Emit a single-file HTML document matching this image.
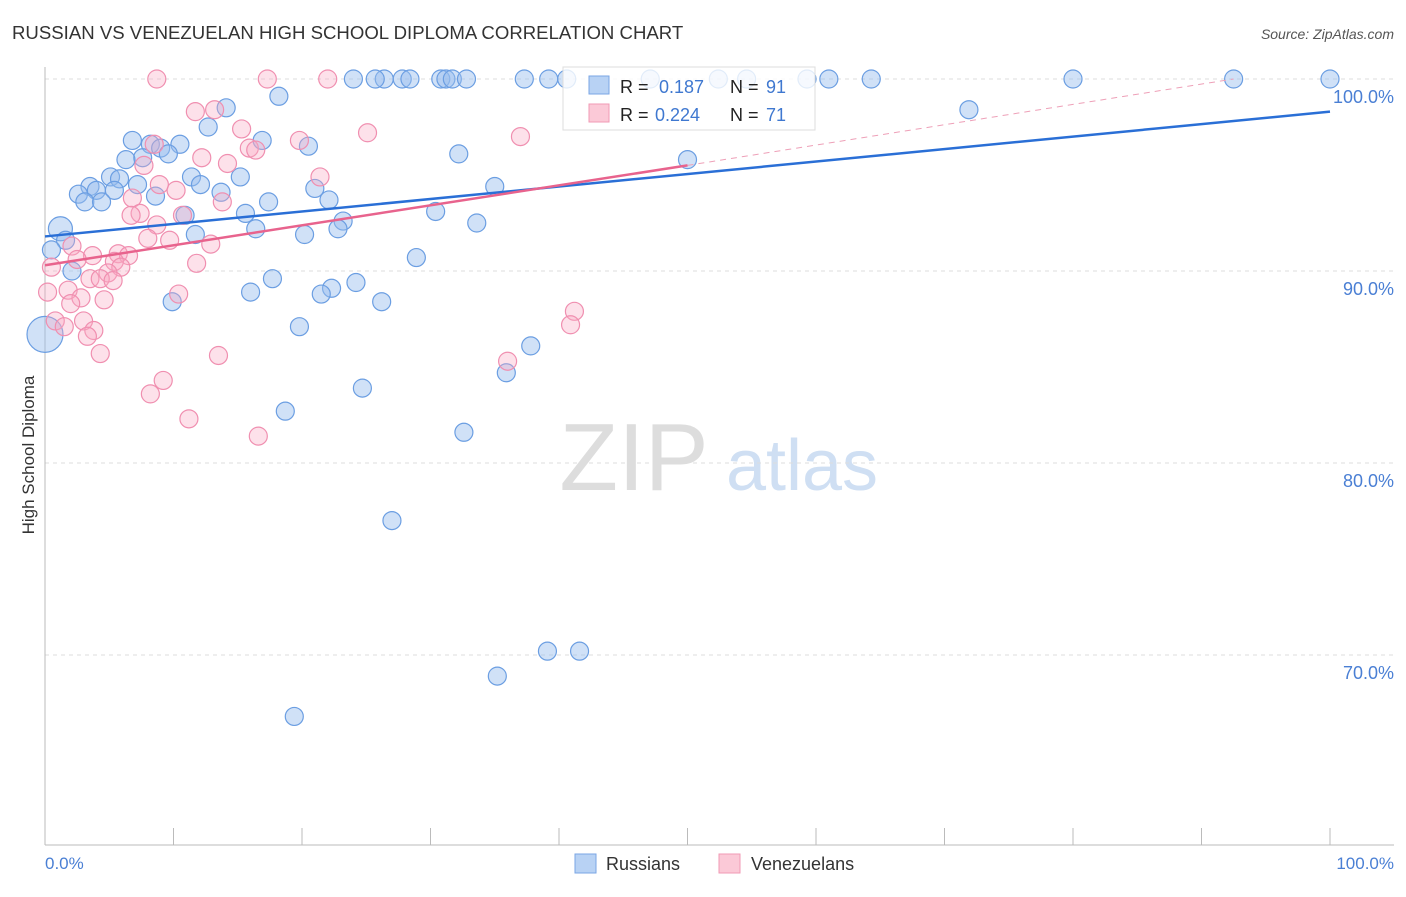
<!DOCTYPE html>
<html><head><meta charset="utf-8">
<style>
body{margin:0;background:#fff;font-family:"Liberation Sans",sans-serif;}
svg text{font-family:"Liberation Sans",sans-serif;}
</style></head>
<body>
<svg id="chart" width="1406" height="892" xmlns="http://www.w3.org/2000/svg">
<text x="12" y="39" font-size="18.6" fill="#333">RUSSIAN VS VENEZUELAN HIGH SCHOOL DIPLOMA CORRELATION CHART</text>
<text x="1394" y="39" font-size="14" fill="#555" font-style="italic" text-anchor="end">Source: ZipAtlas.com</text>
<g>
<text x="634" y="490" font-size="96" fill="#ddd" font-family="Liberation Serif" text-anchor="middle">ZIP</text>
<text x="802" y="490" font-size="72" fill="#cfdff3" text-anchor="middle">atlas</text>
</g>
<g id="grid"></g>
<g id="axes"></g>
<g id="pts"></g>
<g id="lines"></g>
<text transform="translate(34,455) rotate(-90)" font-size="17" fill="#333" text-anchor="middle">High School Diploma</text>
<text x="45" y="869" font-size="17" fill="#4a7fd4">0.0%</text>
<text x="1394" y="869" font-size="17" fill="#4a7fd4" text-anchor="end">100.0%</text>
<g>
<rect x="563" y="67" width="252" height="63" fill="#fff" fill-opacity="0.8" stroke="#ddd"/>
<rect x="589" y="76" width="20" height="18" fill="#b8d2f4" stroke="#7aa6e4"/>
<text x="620" y="93" font-size="18" fill="#222">R = </text><text x="659" y="93" font-size="18" fill="#3f78d0">0.187</text>
<text x="730" y="93" font-size="18" fill="#222">N = </text><text x="766" y="93" font-size="18" fill="#3f78d0">91</text>
<rect x="589" y="104" width="20" height="18" fill="#fbc9d7" stroke="#f09ab4"/>
<text x="620" y="121" font-size="18" fill="#222">R = </text><text x="655" y="121" font-size="18" fill="#3f78d0">0.224</text>
<text x="730" y="121" font-size="18" fill="#222">N = </text><text x="766" y="121" font-size="18" fill="#3f78d0">71</text>
</g>
<g>
<rect x="575" y="854" width="21" height="19" fill="#b8d2f4" stroke="#7aa6e4"/>
<text x="606" y="870" font-size="18" fill="#333">Russians</text>
<rect x="719" y="854" width="21" height="19" fill="#fbc9d7" stroke="#f09ab4"/>
<text x="751" y="870" font-size="18" fill="#333">Venezuelans</text>
</g>
</svg>
<script>
const yTicks=[100,90,80,70];
const yTickLabels=["100.0%","90.0%","80.0%","70.0%"];
const xTicks=[0,10,20,30,40,50,60,70,80,90,100];
const ruX=[24.0,26.4,25.7,27.8,28.4,30.8,31.2,31.7,32.8,37.3,39.2,40.6,47.1,52.4,54.6,59.3,61.0,64.3,80.0,92.5,100,18.2,14.1,71.9,12.7,16.9,6.8,10.5,8.2,20.5,9.0,9.6,32.2,7.6,6.3,50.0,15.2,11.4,5.1,5.8,7.2,12.1,35.0,21.0,3.5,4.0,5.4,13.7,2.6,8.6,3.1,4.4,17.4,22.1,30.4,15.6,10.9,23.2,33.6,16.4,22.8,1.2,11.7,20.2,1.6,0.5,2.1,28.9,17.7,24.2,22.3,16.0,21.5,9.9,26.2,19.8,37.8,0,35.9,24.7,18.7,32.6,27.0,39.1,41.6,35.2,19.4];
const ruY=[100,100,100,100,100,100,100,100,100,100,100,100,100,100,100,100,100,100,100,100,100,99.1,98.5,98.4,97.5,96.8,96.8,96.6,96.6,96.5,96.4,96.1,96.1,95.9,95.8,95.8,94.9,94.9,94.9,94.8,94.5,94.5,94.4,94.3,94.4,94.2,94.2,94.1,94.0,93.9,93.6,93.6,93.6,93.7,93.1,93.0,92.9,92.6,92.5,92.2,92.2,92.2,91.9,91.9,91.6,91.1,90.0,90.7,89.6,89.4,89.1,88.9,88.8,88.4,88.4,87.1,86.1,86.7,84.7,83.9,82.7,81.6,77.0,70.2,70.2,68.9,66.8];
const ruBig={61:12,77:18};
const veX=[8.7,17.3,22.0,11.7,13.2,15.3,25.1,37.0,19.8,8.5,12.2,15.9,16.4,14.2,7.7,21.4,8.9,10.2,6.8,13.8,7.4,6.7,10.7,8.7,8.0,9.7,12.9,2.1,3.7,2.5,5.7,6.5,5.4,5.9,11.8,0.5,4.9,3.5,4.3,5.3,0.2,1.8,2.8,4.6,2.0,10.4,41.2,40.9,0.8,3.0,3.8,1.5,3.3,4.3,13.5,36.0,9.2,8.2,11.2,16.6];
const veY=[100,100,100,98.3,98.4,97.4,97.2,97.0,96.8,96.6,95.9,96.4,96.3,95.6,95.5,94.9,94.5,94.2,93.8,93.6,93.0,92.9,92.9,92.4,91.7,91.6,91.4,91.3,90.8,90.6,90.9,90.8,90.5,90.2,90.4,90.2,89.9,89.6,89.6,89.5,88.9,89.0,88.6,88.5,88.3,88.8,87.9,87.2,87.4,87.4,86.9,87.1,86.6,85.7,85.6,85.3,84.3,83.6,82.3,81.4];
const ruTrend=[91.8,98.3];
const veTrend=[90.3,95.5];
const veTrendEndX=50;
const veDashEnd=[92.5,100];

const NS="http://www.w3.org/2000/svg";
const X=v=>45+v*12.85;
const Y=v=>79+(100-v)*19.2;
function mk(tag,attrs,parent){const e=document.createElementNS(NS,tag);for(const k in attrs)e.setAttribute(k,attrs[k]);document.getElementById(parent).appendChild(e);return e;}
yTicks.forEach((t,i)=>{
  const l=mk('line',{x1:45,x2:1394,y1:Y(t),y2:Y(t),stroke:'#ddd','stroke-dasharray':'4,4'},'grid');
  
  
  const tx=mk('text',{x:1394,y:Y(t)+24,'font-size':18,fill:'#4a7fd4','text-anchor':'end'},'grid');
  tx.textContent=yTickLabels[i];
  
  
});
let a=mk('line',{x1:45,x2:45,y1:67,y2:845,stroke:'#bbb'},'axes');


a=mk('line',{x1:45,x2:1394,y1:845,y2:845,stroke:'#bbb'},'axes');


xTicks.forEach(t=>{
  const l=mk('line',{x1:X(t),x2:X(t),y1:828,y2:845,stroke:'#bbb'},'axes');
  
  
});
ruX.forEach((x,i)=>{
  const c=mk('circle',{cx:X(x),cy:Y(ruY[i]),r:ruBig[i]||9,fill:'rgba(150,188,238,0.45)',stroke:'#6b9ee2','stroke-width':1.2},'pts');
  
  
});
veX.forEach((x,i)=>{
  const c=mk('circle',{cx:X(x),cy:Y(veY[i]),r:9,fill:'rgba(248,170,196,0.35)',stroke:'#f08fb0','stroke-width':1.2},'pts');
  
  
});
let t=mk('line',{x1:X(0),y1:Y(ruTrend[0]),x2:X(100),y2:Y(ruTrend[1]),stroke:'#2a6fd6','stroke-width':2.5},'lines');


t=mk('line',{x1:X(0),y1:Y(veTrend[0]),x2:X(veTrendEndX),y2:Y(veTrend[1]),stroke:'#e8638d','stroke-width':2.5},'lines');


t=mk('line',{x1:X(veTrendEndX),y1:Y(veTrend[1]),x2:X(veDashEnd[0]),y2:Y(veDashEnd[1]),stroke:'#eea0b8','stroke-width':1,'stroke-dasharray':'6,5'},'lines');


</script>
</body></html>
